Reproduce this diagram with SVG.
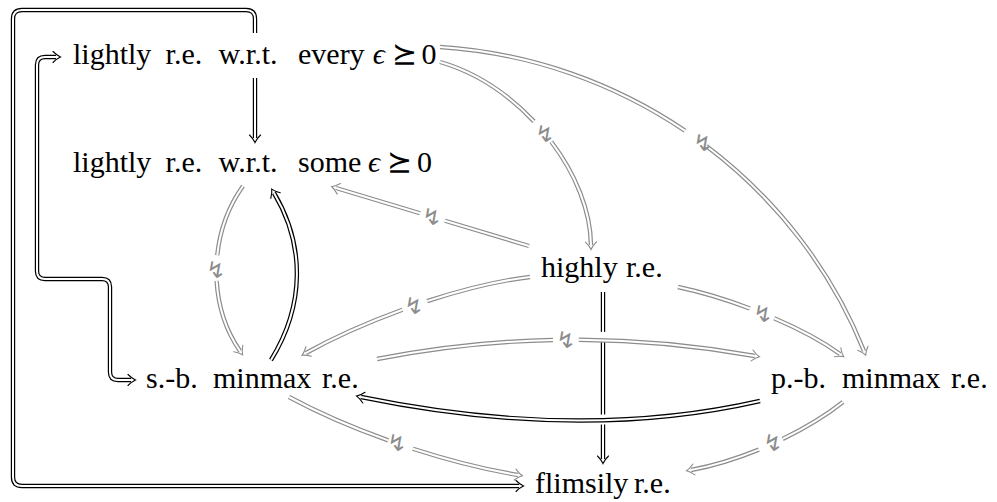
<svg xmlns="http://www.w3.org/2000/svg" width="997" height="502" viewBox="0 0 997 502">
<style>
.o{fill:none;stroke:#000;stroke-width:4.4;stroke-linejoin:round}
.og{fill:none;stroke:#8c8c8c;stroke-width:4.4;stroke-linejoin:round}
.i{fill:none;stroke:#fff;stroke-width:2;stroke-linejoin:round}
.halo{fill:none;stroke:#fff;stroke-width:10}
.t{font-family:"Liberation Serif","DejaVu Serif",serif;font-size:30px;fill:#000}
.z{font-family:"DejaVu Sans",sans-serif;font-size:23px;fill:#8c8c8c;text-anchor:middle;dominant-baseline:central}
</style>
<defs>
<marker id="ah" markerUnits="userSpaceOnUse" orient="auto-start-reverse" refX="0" refY="0" markerWidth="20" markerHeight="20" overflow="visible">
<path d="M-3,-5.5 Q1,-1.5 4.5,0 Q1,1.5 -3,5.5" fill="none" stroke="#000" stroke-width="1.1" stroke-linecap="round"/>
</marker>
<marker id="ahg" markerUnits="userSpaceOnUse" orient="auto-start-reverse" refX="0" refY="0" markerWidth="20" markerHeight="20" overflow="visible">
<path d="M-3,-5.5 Q1,-1.5 4.5,0 Q1,1.5 -3,5.5" fill="none" stroke="#8c8c8c" stroke-width="1.1" stroke-linecap="round"/>
</marker>
</defs>
<g id="connectors">
<g id="e-n3-n6">
<path class="o" d="M603 292 V459"/>
<path class="i" d="M603 292 V459" marker-end="url(#ah)"/>
</g>
<g id="e-n1-n2">
<path class="o" d="M255 78 V138"/>
<path class="i" d="M255 78 V138" marker-end="url(#ah)"/>
</g>
<g id="e-n1-n6-loop">
<path class="o" d="M255 33 V19 Q255 10 246 10 H22 Q13 10 13 19 V477 Q13 486 22 486 H519"/>
<path class="i" d="M255 33 V19 Q255 10 246 10 H22 Q13 10 13 19 V477 Q13 486 22 486 H519" marker-end="url(#ah)"/>
</g>
<g id="e-n1-n4-loop">
<path class="o" d="M56 57 H45 Q37 57 37 65 V271 Q37 279 45 279 H102 Q110 279 110 287 V372 Q110 380 118 380 H131"/>
<path class="i" d="M56 57 H45 Q37 57 37 65 V271 Q37 279 45 279 H102 Q110 279 110 287 V372 Q110 380 118 380 H131" marker-start="url(#ah)" marker-end="url(#ah)"/>
</g>
<g id="e-n4-n2">
<path class="o" d="M271 360 C305 305 305 245 274 193"/>
<path class="i" d="M271 360 C305 305 305 245 274 193" marker-end="url(#ah)"/>
</g>
<g id="e-n2-n4">
<path class="og" pathLength="1000" stroke-dasharray="426.5 147 1000" d="M243 186 C208 235 208 305 240 351"/>
<path class="i" pathLength="1000" stroke-dasharray="426.5 147 1000" d="M243 186 C208 235 208 305 240 351" marker-end="url(#ahg)"/>
<text class="z" x="216" y="270">↯</text>
</g>
<g id="e-n3-n2">
<path class="og" pathLength="1000" stroke-dasharray="435.5 129 1000" d="M529 246 L336 188"/>
<path class="i" pathLength="1000" stroke-dasharray="435.5 129 1000" d="M529 246 L336 188" marker-end="url(#ahg)"/>
<text class="z" x="432" y="217">↯</text>
</g>
<g id="e-n1-n3">
<path class="og" pathLength="1000" stroke-dasharray="446.75 106.5 1000" d="M440 62 C520 85 590 170 591 245"/>
<path class="i" pathLength="1000" stroke-dasharray="446.75 106.5 1000" d="M440 62 C520 85 590 170 591 245" marker-end="url(#ahg)"/>
<text class="z" x="545" y="134">↯</text>
</g>
<g id="e-n1-n5">
<path class="og" pathLength="1000" stroke-dasharray="476 48 1000" d="M440 47 C640 60 800 190 864 351"/>
<path class="i" pathLength="1000" stroke-dasharray="476 48 1000" d="M440 47 C640 60 800 190 864 351" marker-end="url(#ahg)"/>
<text class="z" x="703" y="143">↯</text>
</g>
<g id="e-n3-n4">
<path class="og" pathLength="1000" stroke-dasharray="445.25 109.5 1000" d="M530 277 C460 285 365 320 306 353"/>
<path class="i" pathLength="1000" stroke-dasharray="445.25 109.5 1000" d="M530 277 C460 285 365 320 306 353" marker-end="url(#ahg)"/>
<text class="z" x="414" y="306">↯</text>
</g>
<g id="e-n3-n5">
<path class="og" pathLength="1000" stroke-dasharray="426 148 1000" d="M678 287 C730 298 800 325 840 354"/>
<path class="i" pathLength="1000" stroke-dasharray="426 148 1000" d="M678 287 C730 298 800 325 840 354" marker-end="url(#ahg)"/>
<text class="z" x="763" y="314">↯</text>
</g>
<g id="e-n4-n5">
<path class="halo" d="M585 337 Q603 336 621 338"/>
<path class="og" pathLength="1000" stroke-dasharray="465.85 68.3 1000" d="M377 359 Q566 322 755 356"/>
<path class="i" pathLength="1000" stroke-dasharray="465.85 68.3 1000" d="M377 359 Q566 322 755 356" marker-end="url(#ahg)"/>
<text class="z" x="566" y="340">↯</text>
</g>
<g id="e-n5-n4">
<path class="halo" d="M585 420 L621 419"/>
<path class="o" d="M760 401 Q580 442 361 397"/>
<path class="i" d="M760 401 Q580 442 361 397" marker-end="url(#ah)"/>
</g>
<g id="e-n4-n6">
<path class="og" pathLength="1000" stroke-dasharray="446.5 107 1000" d="M289 397 C350 430 440 462 518 475"/>
<path class="i" pathLength="1000" stroke-dasharray="446.5 107 1000" d="M289 397 C350 430 440 462 518 475" marker-end="url(#ahg)"/>
<text class="z" x="397" y="443">↯</text>
</g>
<g id="e-n5-n6">
<path class="og" pathLength="1000" stroke-dasharray="422.5 155 1000" d="M843 402 C805 432 745 460 691 470"/>
<path class="i" pathLength="1000" stroke-dasharray="422.5 155 1000" d="M843 402 C805 432 745 460 691 470" marker-end="url(#ahg)"/>
<text class="z" x="773" y="443">↯</text>
</g>
</g>
<g id="n1"><text class="t" y="64"><tspan x="73">lightly</tspan><tspan x="165.6">r.e.</tspan><tspan x="218.6">w.r.t.</tspan><tspan x="298">every</tspan><tspan x="372.7" font-style="italic">ϵ</tspan><tspan x="391.9">⪰</tspan><tspan x="421.5">0</tspan></text></g>
<g id="n2"><text class="t" y="172"><tspan x="73">lightly</tspan><tspan x="165.6">r.e.</tspan><tspan x="218.6">w.r.t.</tspan><tspan x="298">some</tspan><tspan x="368" font-style="italic">ϵ</tspan><tspan x="387.3">⪰</tspan><tspan x="416.9">0</tspan></text></g>
<g id="n3"><text class="t" y="277"><tspan x="541">highly</tspan><tspan x="626">r.e.</tspan></text></g>
<g id="n4"><text class="t" y="388"><tspan x="146">s.-b.</tspan><tspan x="213">minmax</tspan><tspan x="322">r.e.</tspan></text></g>
<g id="n5"><text class="t" y="388"><tspan x="771">p.-b.</tspan><tspan x="842">minmax</tspan><tspan x="951">r.e.</tspan></text></g>
<g id="n6"><text class="t" y="493"><tspan x="535">flimsily</tspan><tspan x="634">r.e.</tspan></text></g>
</svg>
